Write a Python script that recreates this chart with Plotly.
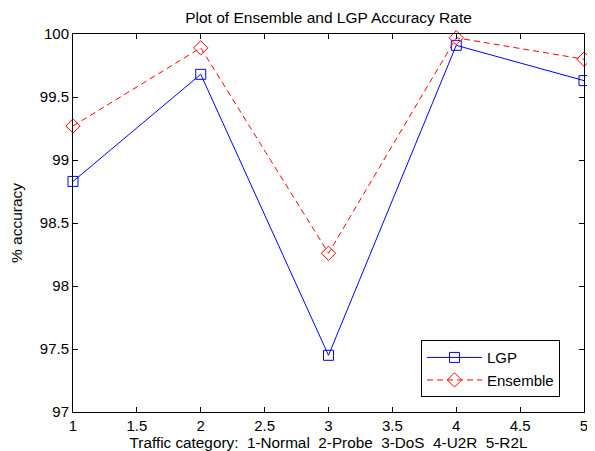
import plotly.graph_objects as go

categories = [1, 2, 3, 4, 5]
lgp = [98.83, 99.68, 97.45, 99.91, 99.63]
ensemble = [99.27, 99.89, 98.26, 99.97, 99.80]
x_ticks = [1, 1.5, 2, 2.5, 3, 3.5, 4, 4.5, 5]
y_ticks = [97, 97.5, 98, 98.5, 99, 99.5, 100]

font = "Liberation Sans, Arial, sans-serif"

# page body has an 8px default margin, so the figure is sized/offset to compensate
W, H = 587, 443

fig = go.Figure()
fig.add_trace(go.Scatter(
    x=categories, y=lgp, name="LGP", mode="lines+markers",
    line=dict(color="#0000ff", width=1),
    marker=dict(symbol="square-open", size=10, color="#0000ff", line=dict(width=1)),
    cliponaxis=False,
))
fig.add_trace(go.Scatter(
    x=categories, y=ensemble, name="Ensemble", mode="lines+markers",
    line=dict(color="#ff0000", width=1, dash="6px,4px"),
    marker=dict(symbol="diamond-open", size=11, color="#ff0000", line=dict(width=1)),
    cliponaxis=False,
))

axis_common = dict(
    showgrid=False, zeroline=False, showline=True, linecolor="black", linewidth=1,
    mirror="allticks", ticks="inside", ticklen=5, tickcolor="black",
    tickfont=dict(family=font, size=15, color="black"), automargin=False,
)

fig.update_layout(
    width=W, height=H,
    margin=dict(l=65, r=11, t=26, b=39, autoexpand=False),
    paper_bgcolor="white", plot_bgcolor="white",
    title=dict(text="Plot of Ensemble and LGP Accuracy Rate", x=0.5, xref="paper",
               y=1 - 10/H, yanchor="middle", automargin=False,
               font=dict(family=font, size=15.5, color="black")),
    xaxis=dict(range=[1, 5], tickvals=x_ticks, ticktext=[str(v) for v in x_ticks],
               title=dict(text="Traffic category:  1-Normal  2-Probe  3-DoS  4-U2R  5-R2L",
                          font=dict(family=font, size=15.3, color="black"), standoff=2),
               **axis_common),
    yaxis=dict(range=[97, 100], tickvals=y_ticks, ticktext=[str(v) for v in y_ticks],
               title=dict(text="% accuracy", font=dict(family=font, size=15.5, color="black"),
                          standoff=20),
               **axis_common),
    legend=dict(x=0.681, y=0.19, xanchor="left", yanchor="top",
                bgcolor="white", bordercolor="black", borderwidth=1,
                font=dict(family=font, size=15, color="black"),
                itemwidth=55, tracegroupgap=0),
    showlegend=True,
)

fig.write_html("out.html")
